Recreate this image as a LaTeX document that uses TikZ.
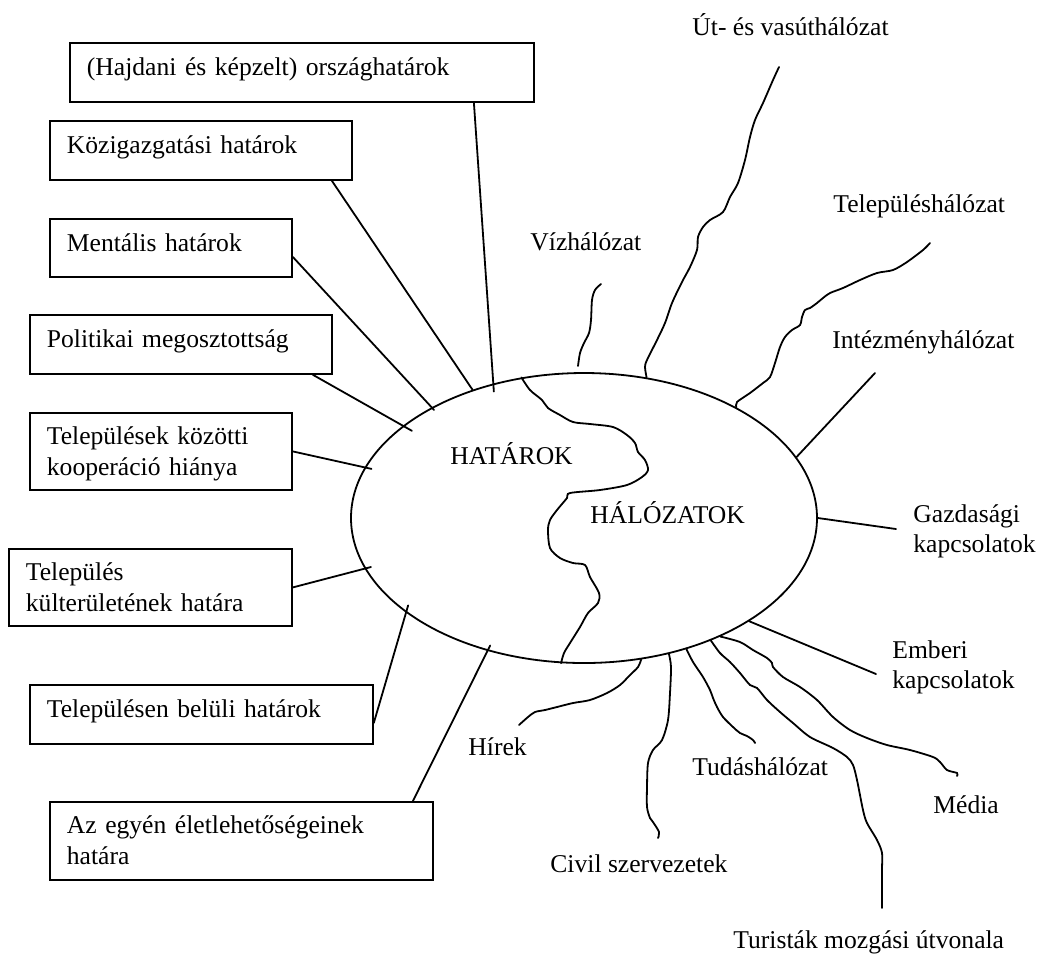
\documentclass[tikz,border=0pt]{standalone}
\usepackage{fontspec}
\setmainfont{Liberation Serif}
\usetikzlibrary{shapes.geometric}

\tikzstyle{hbox} = [draw, line width=0.9pt, anchor=north west, inner xsep=8.5pt, inner ysep=0pt, align=left, text height=9pt, text depth=5.5pt, font=\fontsize{12.8}{15.5}\selectfont]
\tikzstyle{hbox2} = [hbox, text depth=16.4pt]
\tikzstyle{txt} = [anchor=base west, inner sep=0pt, align=left, font=\fontsize{12.8}{15}\selectfont]
\tikzstyle{lnk} = [line width=0.9pt, line cap=round]

\begin{document}
\begin{tikzpicture}[x=0.5pt, y=-0.5pt]
      \useasboundingbox (0,0) rectangle (1037,955);
      % the ellipse
      \node[draw, ellipse, line width=0.9pt, inner sep=0pt, minimum width=233pt, minimum height=145pt] (e) at (584,518) {};
      \node[txt] (hat) at (450,464) {HATÁROK};
      \node[txt] (hal) at (590,523) {HÁLÓZATOK};
      % boxes on the left
      \node[hbox, text width=215pt, minimum height=29.5pt] (b1) at (69,42) {(Hajdani és képzelt) országhatárok};
      \node[hbox, text width=134pt, minimum height=29.5pt] (b2) at (49,120) {Közigazgatási határok};
      \node[hbox, text width=104pt, minimum height=29pt] (b3) at (49,218) {Mentális határok};
      \node[hbox, text width=134pt, minimum height=29.5pt] (b4) at (29,314) {Politikai megosztottság};
      \node[hbox2, text width=114pt, minimum height=38.5pt] (b5) at (29,412) {Települések közötti\\kooperáció hiánya};
      \node[hbox2, text width=124.5pt, minimum height=38.5pt] (b6) at (8,548) {Település\\külterületének határa};
      \node[hbox, text width=154.5pt, minimum height=29.5pt] (b7) at (29,684) {Településen belüli határok};
      \node[hbox2, text width=174.5pt, minimum height=39pt] (b8) at (49,801) {Az egyén életlehetőségeinek\\határa};
      \draw[lnk, shorten >=-4pt] ([xshift=86pt]b1.south) -- (e.124.8);
      \draw[lnk] ([xshift=65.5pt]b2.south) -- (e.131.4);
      \draw[lnk, shorten >=-1.75pt] ([yshift=-4.5pt]b3.east) -- (e.144.9);
      \draw[lnk, shorten >=-5.2pt] ([xshift=66pt]b4.south) -- (e.153.2);
      \draw[lnk, shorten >=-3.5pt] (b5.east) -- (e.167.2);
      \draw[lnk, shorten >=-3.25pt] (b6.east) -- (e.-167);
      \draw[lnk, shorten >=-3.8pt] ([yshift=-4.25pt]b7.east) -- (e.208.8);
      \draw[lnk, shorten >=-3pt] ([xshift=85.75pt]b8.north) -- (e.234.4);
      % boundary between the two halves
      \draw[lnk] plot[smooth] coordinates {(e.114.7) (530,390) (542,400) (548,408) (560,415) (573,422) (590,424) (613,427) (627,435) (635,443) (638,452) (645,460) (648,470) (642,477) (627,485) (600,490) (570,493) (567,498) (557,510) (550,520) (548,530) (550,548) (560,558) (573,563) (585,565) (590,577) (599,593) (598,603) (588,613) (580,627) (570,643) (564,653) (e.-99)};
      % labels on the right
      \node[txt] (tut) at (692,35) {Út- és vasúthálózat};
      \node[txt] (ttel) at (833,212) {Településhálózat};
      \node[txt] (tviz) at (530,250) {Vízhálózat};
      \node[txt] (tint) at (832,348) {Intézményhálózat};
      \node[txt] (tgaz) at (913,552) {Gazdasági\\kapcsolatok};
      \node[txt] (temb) at (892,688) {Emberi\\kapcsolatok};
      \node[txt] (tmed) at (933,813) {Média};
      \node[txt] (ttur) at (733,948) {Turisták mozgási útvonala};
      \node[txt] (tciv) at (550,872) {Civil szervezetek};
      \node[txt] (ttud) at (692,775) {Tudáshálózat};
      \node[txt] (thir) at (468,755) {Hírek};
      % free ends
      \coordinate (ut) at (779,67);
      \coordinate (tel) at (930,243);
      \coordinate (viz) at (601,284);
      \coordinate (int) at (875,373);
      \coordinate (gaz) at (896,529);
      \coordinate (emb) at (876,674);
      \coordinate (med) at (957,776);
      \coordinate (tur) at (882,908);
      \coordinate (civ) at (658,838);
      \coordinate (tud) at (755,743);
      \coordinate (hir) at (519,725);
      % straight links
      \draw[lnk] (e.16.9) -- (int);
      \draw[lnk] (e.east) -- (gaz);
      \draw[lnk] (e.-32.3) -- (emb);
      % wavy links
      \draw[lnk] plot[smooth] coordinates {(578,366) (580,353) (584,343) (589,333) (591,320) (592,300) (595,290) (viz)};
      \draw[lnk] plot[smooth] coordinates {(e.66.1) (645,367) (647,360) (657,340) (665,323) (672,303) (682,282) (690,267) (697,250) (698,237) (703,227) (710,220) (723,212) (730,197) (738,183) (745,160) (750,137) (755,120) (763,103) (773,80) (ut)};
      \draw[lnk] plot[smooth] coordinates {(e.36.7) (737,402) (750,393) (763,383) (770,377) (775,363) (780,347) (785,337) (792,330) (800,325) (802,317) (805,310) (810,308) (817,303) (823,298) (830,293) (843,288) (860,280) (877,273) (893,270) (907,262) (923,250) (tel)};
      \draw[lnk] plot[smooth] coordinates {(e.-68.4) (638,667) (630,675) (620,685) (607,693) (590,700) (573,703) (557,707) (545,710) (535,712) (528,717) (hir)};
      \draw[lnk] plot[smooth] coordinates {(e.-58.2) (671,667) (670,693) (668,720) (662,740) (653,750) (648,763) (647,787) (647,807) (650,818) (653,822) (659,832) (civ)};
      \draw[lnk] plot[smooth] coordinates {(e.-52.5) (693,662) (703,677) (710,690) (713,698) (717,707) (723,717) (733,727) (740,733) (747,736) (753,740) (tud)};
      \draw[lnk] plot[smooth] coordinates {(e.-44.8) (720,653) (730,662) (740,673) (750,685) (757,688) (767,700) (780,712) (793,723) (810,737) (833,748) (847,757) (853,765) (857,780) (863,810) (867,823) (877,840) (882,853) (882,870) (tur)};
      \draw[lnk] plot[smooth] coordinates {(e.-41.2) (740,642) (753,650) (767,658) (772,663) (773,667) (783,677) (800,687) (817,700) (833,717) (850,730) (867,738) (887,745) (910,750) (933,757) (940,762) (947,770) (957,773) (med)};
\end{tikzpicture}
\end{document}
